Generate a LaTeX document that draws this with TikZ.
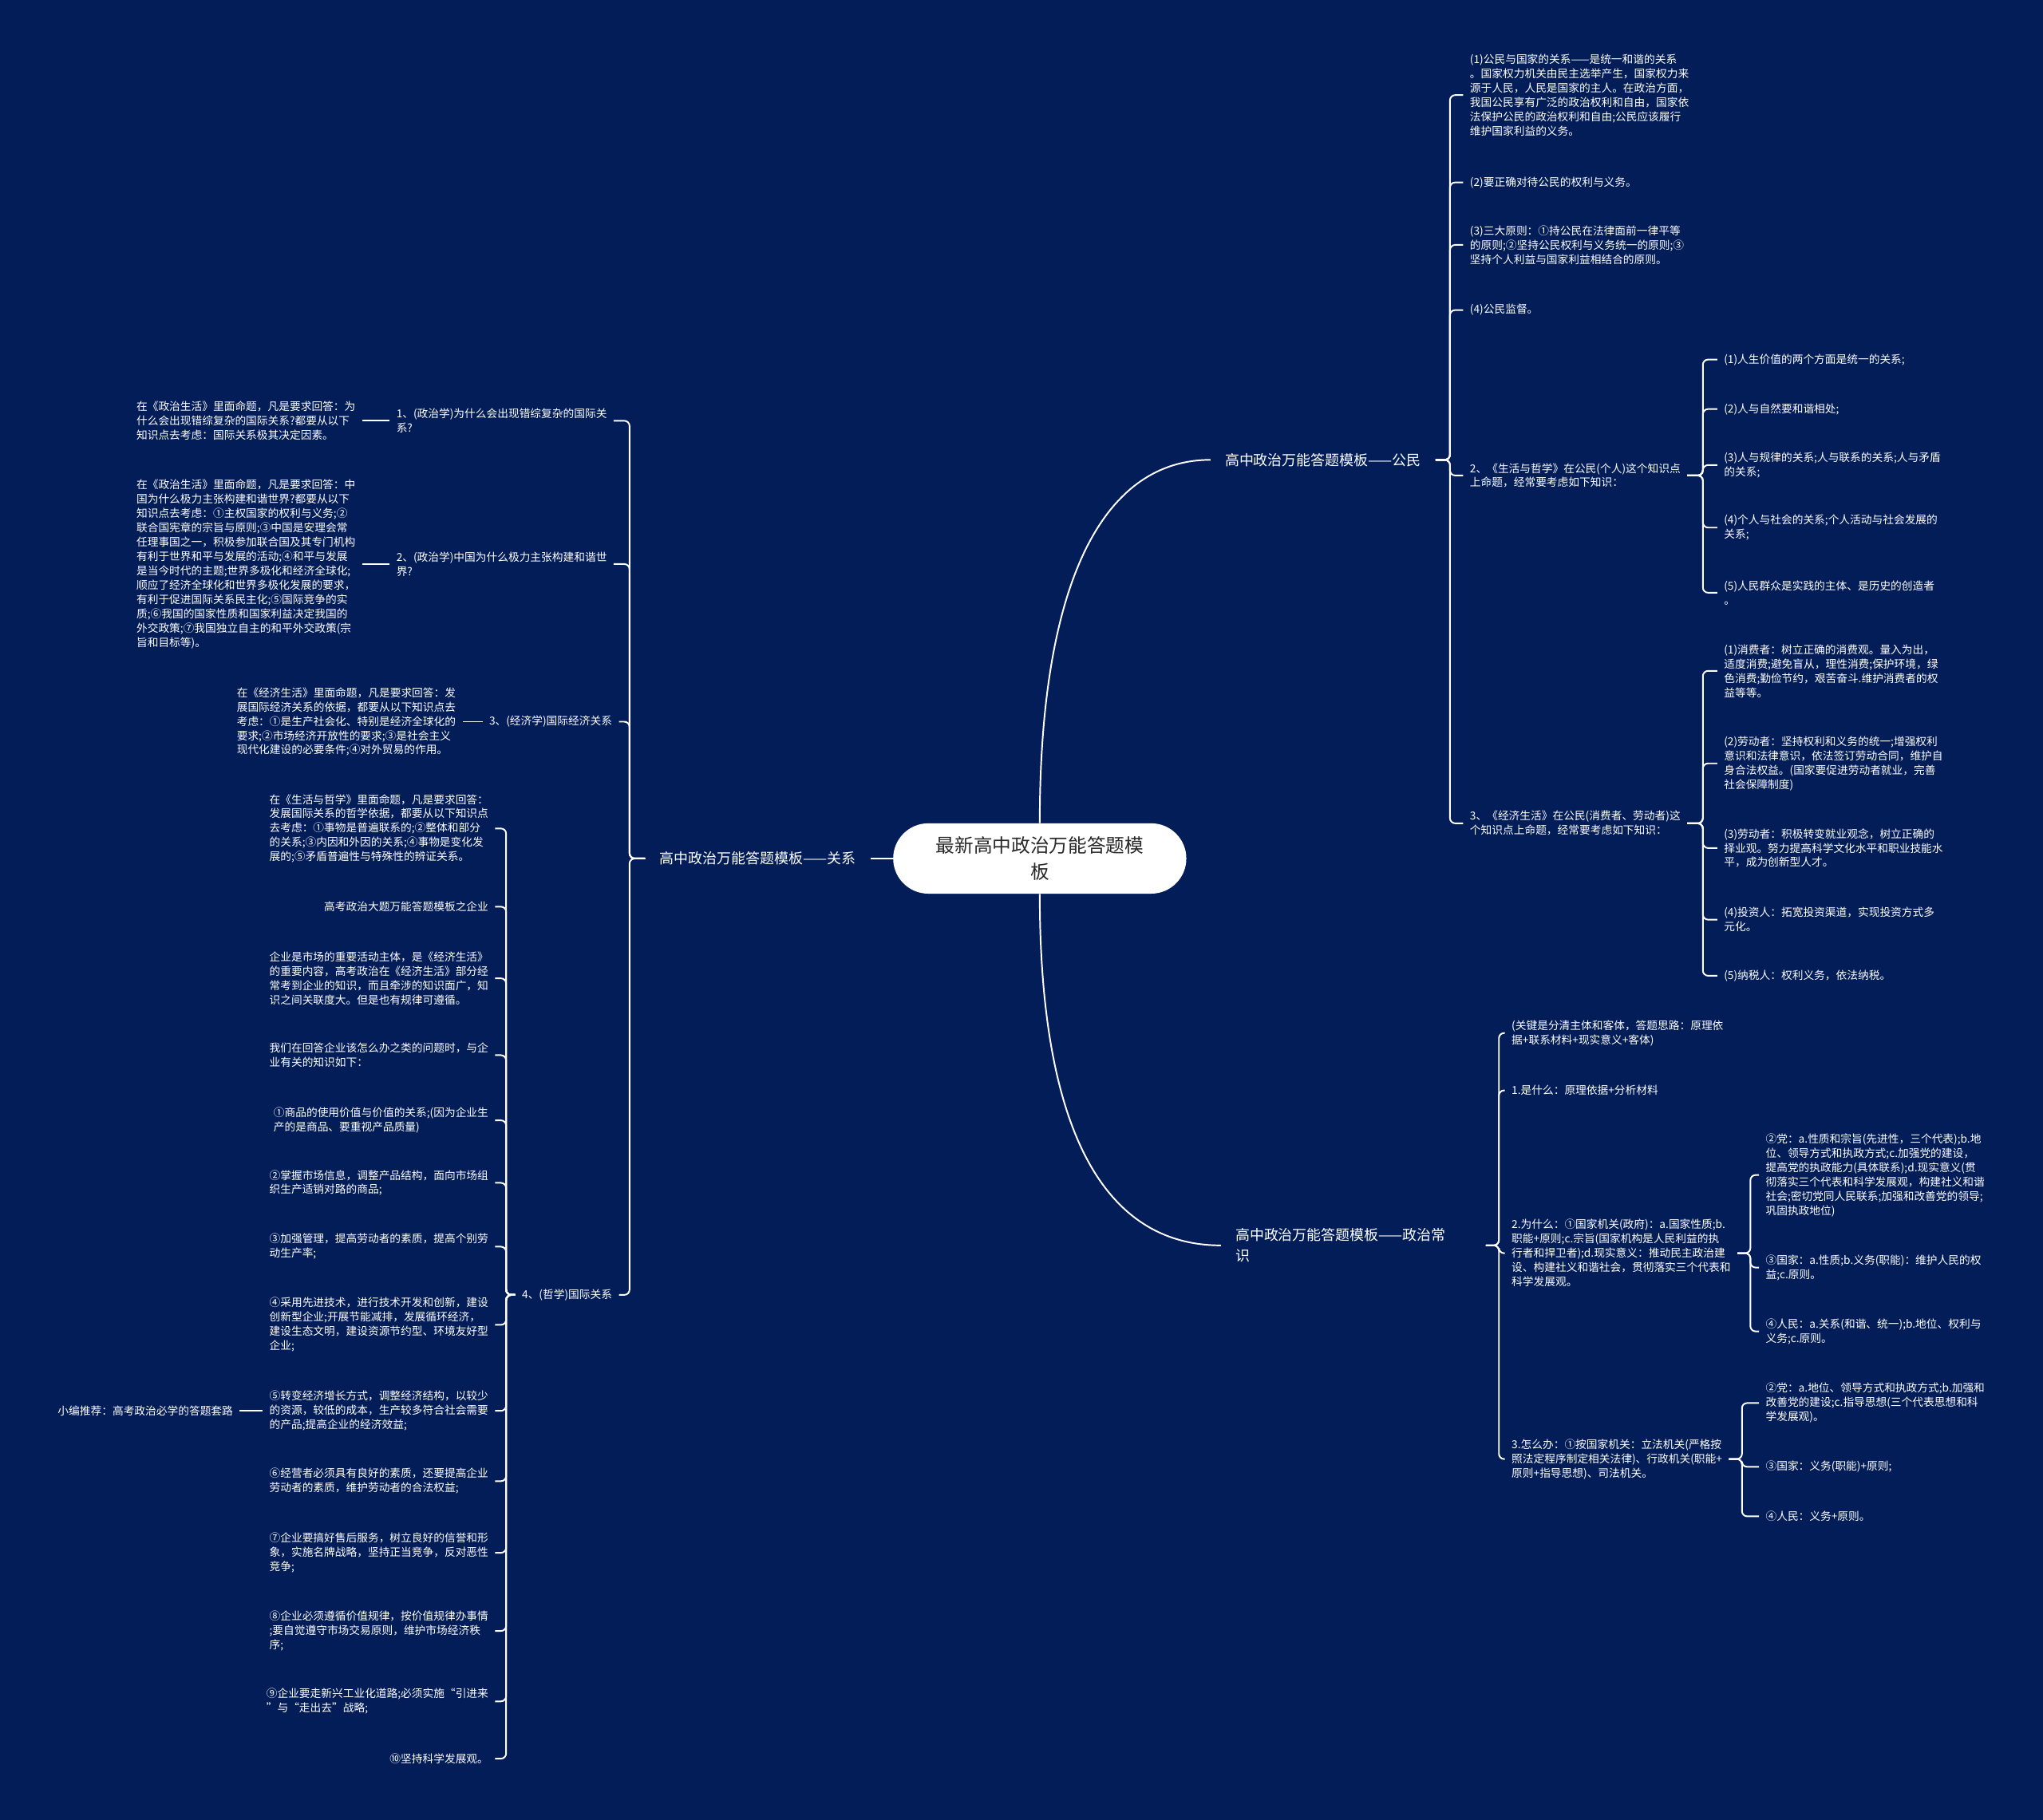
\documentclass[tikz,border=0pt]{standalone}
\usepackage{fontspec}
\setmainfont{Noto Sans CJK SC}
\usetikzlibrary{positioning}
\definecolor{navy}{RGB}{2,29,88}
\definecolor{ink}{RGB}{40,40,40}
\tikzset{
  root/.style={fill=white, text=ink, rounded corners=27pt, minimum width=225pt, minimum height=54pt,
    align=center, font=\fontsize{14.5}{20}\selectfont},
  branch/.style={text=white, align=left, inner xsep=11pt, inner ysep=2pt, font=\fontsize{11}{16}\selectfont},
  leaf/.style={text=white, align=left, inner xsep=5pt, inner ysep=2pt, font=\fontsize{8.4}{11}\selectfont},
  link/.style={draw=white, line width=1.2pt, rounded corners=4pt},
}
\begin{document}
\begin{tikzpicture}[x=1pt, y=-1pt]
  \fill[navy] (0,0) rectangle (1568,1397);

  % centre and main branches
  \node[root] (root) at (798,659) {最新高中政治万能答题模\\板};
  \node[branch, anchor=east] (rel) at (668,659) {高中政治万能答题模板——关系};
  \node[branch, anchor=west] (cit) at (929,353) {高中政治万能答题模板——公民};
  \node[branch, anchor=west, text width=181pt] (pol) at (937,956) {高中政治万能答题模板——政治常\\识};
  \draw[link] (root.west) -- (rel.east);
  \draw[link] (root.north) .. controls +(0,-190) and +(-80,0) .. (cit.west);
  \draw[link] (root.south) .. controls +(0,190) and +(-85,0) .. (pol.west);

  % citizen
  \node[leaf, anchor=west] (c1) at (1123,73) {(1)公民与国家的关系——是统一和谐的关系\\。国家权力机关由民主选举产生，国家权力来\\源于人民，人民是国家的主人。在政治方面，\\我国公民享有广泛的政治权利和自由，国家依\\法保护公民的政治权利和自由;公民应该履行\\维护国家利益的义务。};
  \node[leaf, anchor=west] (c2) at (1123,140) {(2)要正确对待公民的权利与义务。};
  \node[leaf, anchor=west] (c3) at (1123,188) {(3)三大原则：①持公民在法律面前一律平等\\的原则;②坚持公民权利与义务统一的原则;③\\坚持个人利益与国家利益相结合的原则。};
  \node[leaf, anchor=west] (c4) at (1123,238) {(4)公民监督。};
  \node[leaf, anchor=west] (c5) at (1123,365) {2、《生活与哲学》在公民(个人)这个知识点\\上命题，经常要考虑如下知识：};
  \node[leaf, anchor=west] (c6) at (1123,632) {3、《经济生活》在公民(消费者、劳动者)这\\个知识点上命题，经常要考虑如下知识：};
  \foreach \c in {c1,c2,c3,c4,c5,c6}
    \draw[link] (cit.east) -- ++(11,0) |- (\c.west);

  \node[leaf, anchor=west] (d1) at (1318,276) {(1)人生价值的两个方面是统一的关系;};
  \node[leaf, anchor=west] (d2) at (1318,314) {(2)人与自然要和谐相处;};
  \node[leaf, anchor=west] (d3) at (1318,357) {(3)人与规律的关系;人与联系的关系;人与矛盾\\的关系;};
  \node[leaf, anchor=west] (d4) at (1318,405) {(4)个人与社会的关系;个人活动与社会发展的\\关系;};
  \node[leaf, anchor=west] (d5) at (1318,455) {(5)人民群众是实践的主体、是历史的创造者\\。};
  \foreach \c in {d1,d2,d3,d4,d5}
    \draw[link] (c5.east) -- ++(12,0) |- (\c.west);

  \node[leaf, anchor=west] (e1) at (1318,515) {(1)消费者：树立正确的消费观。量入为出，\\适度消费;避免盲从，理性消费;保护环境，绿\\色消费;勤俭节约，艰苦奋斗.维护消费者的权\\益等等。};
  \node[leaf, anchor=west] (e2) at (1318,586) {(2)劳动者：坚持权利和义务的统一;增强权利\\意识和法律意识，依法签订劳动合同，维护自\\身合法权益。(国家要促进劳动者就业，完善\\社会保障制度)};
  \node[leaf, anchor=west] (e3) at (1318,651) {(3)劳动者：积极转变就业观念，树立正确的\\择业观。努力提高科学文化水平和职业技能水\\平，成为创新型人才。};
  \node[leaf, anchor=west] (e4) at (1318,706) {(4)投资人：拓宽投资渠道，实现投资方式多\\元化。};
  \node[leaf, anchor=west] (e5) at (1318,749) {(5)纳税人：权利义务，依法纳税。};
  \foreach \c in {e1,e2,e3,e4,e5}
    \draw[link] (c6.east) -- ++(12,0) |- (\c.west);

  % political common sense
  \node[leaf, anchor=west] (f1) at (1155,793) {(关键是分清主体和客体，答题思路：原理依\\据+联系材料+现实意义+客体)};
  \node[leaf, anchor=west] (f2) at (1155,837) {1.是什么：原理依据+分析材料};
  \node[leaf, anchor=west] (f3) at (1155,962) {2.为什么：①国家机关(政府)：a.国家性质;b.\\职能+原则;c.宗旨(国家机构是人民利益的执\\行者和捍卫者);d.现实意义：推动民主政治建\\设、构建社义和谐社会，贯彻落实三个代表和\\科学发展观。};
  \node[leaf, anchor=west] (f4) at (1155,1120) {3.怎么办：①按国家机关：立法机关(严格按\\照法定程序制定相关法律)、行政机关(职能+\\原则+指导思想)、司法机关。};
  \foreach \c in {f1,f2,f3,f4}
    \draw[link] (pol.east) -- ++(10,0) |- (\c.west);

  \node[leaf, anchor=west] (g1) at (1350,902) {②党：a.性质和宗旨(先进性，三个代表);b.地\\位、领导方式和执政方式;c.加强党的建设，\\提高党的执政能力(具体联系);d.现实意义(贯\\彻落实三个代表和科学发展观，构建社义和谐\\社会;密切党同人民联系;加强和改善党的领导;\\巩固执政地位)};
  \node[leaf, anchor=west] (g2) at (1350,973) {③国家：a.性质;b.义务(职能)：维护人民的权\\益;c.原则。};
  \node[leaf, anchor=west] (g3) at (1350,1022) {④人民：a.关系(和谐、统一);b.地位、权利与\\义务;c.原则。};
  \foreach \c in {g1,g2,g3}
    \draw[link] (f3.east) -- ++(10,0) |- (\c.west);

  \node[leaf, anchor=west] (h1) at (1350,1077) {②党：a.地位、领导方式和执政方式;b.加强和\\改善党的建设;c.指导思想(三个代表思想和科\\学发展观)。};
  \node[leaf, anchor=west] (h2) at (1350,1126) {③国家：义务(职能)+原则;};
  \node[leaf, anchor=west] (h3) at (1350,1164) {④人民：义务+原则。};
  \foreach \c in {h1,h2,h3}
    \draw[link] (f4.east) -- ++(10,0) |- (\c.west);

  % relations
  \node[leaf, anchor=east] (k1) at (471,323) {1、(政治学)为什么会出现错综复杂的国际关\\系?};
  \node[leaf, anchor=east] (k2) at (471,433) {2、(政治学)中国为什么极力主张构建和谐世\\界?};
  \node[leaf, anchor=east] (k3) at (475,554) {3、(经济学)国际经济关系};
  \node[leaf, anchor=east] (k4) at (475,994) {4、(哲学)国际关系};
  \foreach \c in {k1,k2,k3,k4}
    \draw[link] (rel.west) -- ++(-12,0) |- (\c.east);

  \node[leaf, anchor=east] (l1) at (278,323) {在《政治生活》里面命题，凡是要求回答：为\\什么会出现错综复杂的国际关系?都要从以下\\知识点去考虑：国际关系极其决定因素。};
  \node[leaf, anchor=east] (l2) at (278,433) {在《政治生活》里面命题，凡是要求回答：中\\国为什么极力主张构建和谐世界?都要从以下\\知识点去考虑：①主权国家的权利与义务;②\\联合国宪章的宗旨与原则;③中国是安理会常\\任理事国之一，积极参加联合国及其专门机构\\有利于世界和平与发展的活动;④和平与发展\\是当今时代的主题;世界多极化和经济全球化;\\顺应了经济全球化和世界多极化发展的要求，\\有利于促进国际关系民主化;⑤国际竞争的实\\质;⑥我国的国家性质和国家利益决定我国的\\外交政策;⑦我国独立自主的和平外交政策(宗\\旨和目标等)。};
  \node[leaf, anchor=east] (l3) at (355,554) {在《经济生活》里面命题，凡是要求回答：发\\展国际经济关系的依据，都要从以下知识点去\\考虑：①是生产社会化、特别是经济全球化的\\要求;②市场经济开放性的要求;③是社会主义\\现代化建设的必要条件;④对外贸易的作用。};
  \draw[link] (k1.west) -- (l1.east);
  \draw[link] (k2.west) -- (l2.east);
  \draw[link] (k3.west) -- (l3.east);

  \node[leaf, anchor=east] (m1) at (380,636) {在《生活与哲学》里面命题，凡是要求回答：\\发展国际关系的哲学依据，都要从以下知识点\\去考虑：①事物是普遍联系的;②整体和部分\\的关系;③内因和外因的关系;④事物是变化发\\展的;⑤矛盾普遍性与特殊性的辨证关系。};
  \node[leaf, anchor=east] (m2) at (380,696) {高考政治大题万能答题模板之企业};
  \node[leaf, anchor=east] (m3) at (380,751) {企业是市场的重要活动主体，是《经济生活》\\的重要内容，高考政治在《经济生活》部分经\\常考到企业的知识，而且牵涉的知识面广，知\\识之间关联度大。但是也有规律可遵循。};
  \node[leaf, anchor=east] (m4) at (380,810) {我们在回答企业该怎么办之类的问题时，与企\\业有关的知识如下：};
  \node[leaf, anchor=east] (m5) at (380,860) {①商品的使用价值与价值的关系;(因为企业生\\产的是商品、要重视产品质量)};
  \node[leaf, anchor=east] (m6) at (380,908) {②掌握市场信息，调整产品结构，面向市场组\\织生产适销对路的商品;};
  \node[leaf, anchor=east] (m7) at (380,957) {③加强管理，提高劳动者的素质，提高个别劳\\动生产率;};
  \node[leaf, anchor=east] (m8) at (380,1017) {④采用先进技术，进行技术开发和创新，建设\\创新型企业;开展节能减排，发展循环经济，\\建设生态文明，建设资源节约型、环境友好型\\企业;};
  \node[leaf, anchor=east] (m9) at (380,1083) {⑤转变经济增长方式，调整经济结构，以较少\\的资源，较低的成本，生产较多符合社会需要\\的产品;提高企业的经济效益;};
  \node[leaf, anchor=east] (m10) at (380,1137) {⑥经营者必须具有良好的素质，还要提高企业\\劳动者的素质，维护劳动者的合法权益;};
  \node[leaf, anchor=east] (m11) at (380,1192) {⑦企业要搞好售后服务，树立良好的信誉和形\\象，实施名牌战略，坚持正当竞争，反对恶性\\竞争;};
  \node[leaf, anchor=east] (m12) at (380,1252) {⑧企业必须遵循价值规律，按价值规律办事情\\;要自觉遵守市场交易原则，维护市场经济秩\\序;};
  \node[leaf, anchor=east] (m13) at (380,1306) {⑨企业要走新兴工业化道路;必须实施“引进来\\”与“走出去”战略;};
  \node[leaf, anchor=east] (m14) at (380,1350) {⑩坚持科学发展观。};
  \foreach \c in {m1,m2,m3,m4,m5,m6,m7,m8,m9,m10,m11,m12,m13,m14}
    \draw[link] (k4.west) -- ++(-7,0) |- (\c.east);

  \node[leaf, anchor=east] (n1) at (184,1083) {小编推荐：高考政治必学的答题套路};
  \draw[link] (m9.west) -- (n1.east);
\end{tikzpicture}
\end{document}
